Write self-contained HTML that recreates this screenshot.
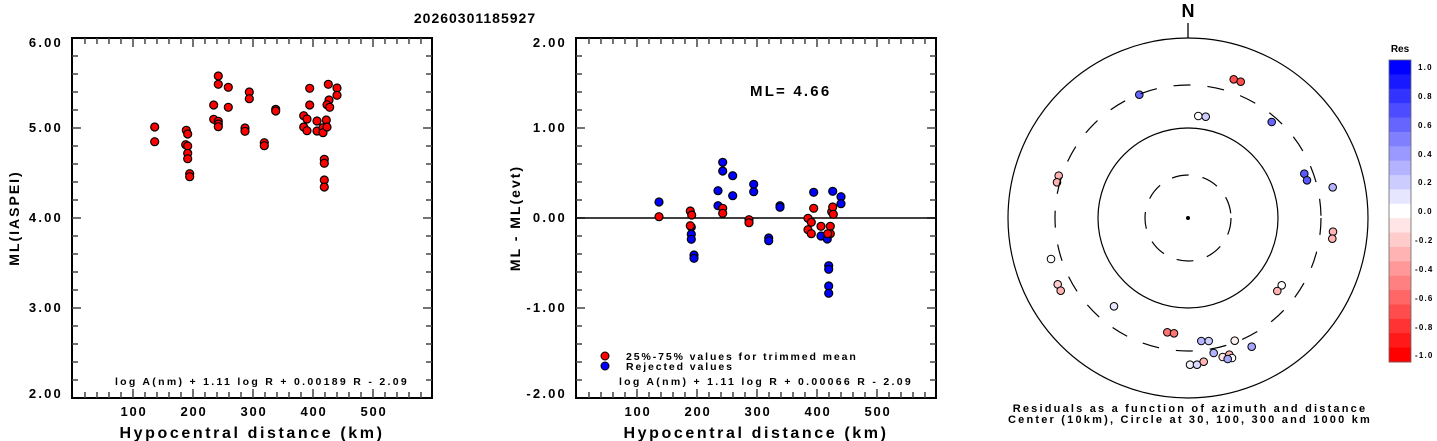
<!DOCTYPE html>
<html><head><meta charset="utf-8"><style>
body{margin:0;background:#fff}
svg{display:block}
text{font-family:"Liberation Sans",sans-serif;font-weight:bold;fill:#000}
</style></head><body>
<svg id="s" width="1437" height="441" viewBox="0 0 1437 441" xmlns="http://www.w3.org/2000/svg">
<text x="475" y="23" font-size="14" text-anchor="middle" letter-spacing="1">20260301185927</text>
<g id="left"></g><g id="mid"></g><g id="polar"></g>
<g font-size="13" letter-spacing="2.2" text-anchor="end">
<text x="63" y="47">6.00</text><text x="63" y="132">5.00</text><text x="63" y="222">4.00</text><text x="63" y="312">3.00</text><text x="63" y="398">2.00</text>
<text x="567" y="47">2.00</text><text x="567" y="132">1.00</text><text x="567" y="222">0.00</text><text x="567" y="312">-1.00</text><text x="567" y="398">-2.00</text>
</g>
<g font-size="13" letter-spacing="1.8" text-anchor="middle">
<text x="134" y="416">100</text><text x="194" y="416">200</text><text x="254" y="416">300</text><text x="314" y="416">400</text><text x="374" y="416">500</text>
<text x="638" y="416">100</text><text x="698" y="416">200</text><text x="758" y="416">300</text><text x="818" y="416">400</text><text x="878" y="416">500</text>
</g>
<text x="252" y="438" font-size="16" letter-spacing="2.6" text-anchor="middle">Hypocentral distance (km)</text>
<text x="756" y="438" font-size="16" letter-spacing="2.6" text-anchor="middle">Hypocentral distance (km)</text>
<text transform="translate(19,218) rotate(-90)" font-size="14" letter-spacing="2" text-anchor="middle">ML(IASPEI)</text>
<text transform="translate(520,218) rotate(-90)" font-size="14" letter-spacing="2" text-anchor="middle">ML - ML(evt)</text>
<text x="262" y="385" font-size="10.5" letter-spacing="2.3" text-anchor="middle">log A(nm) + 1.11 log R + 0.00189 R - 2.09</text>
<text x="766" y="385" font-size="10.5" letter-spacing="2.3" text-anchor="middle">log A(nm) + 1.11 log R + 0.00066 R - 2.09</text>
<text x="750" y="96" font-size="15" letter-spacing="2.2">ML= 4.66</text>
<circle cx="605" cy="356" r="4" fill="#f00" stroke="#000"/>
<circle cx="605" cy="366" r="4" fill="#00f" stroke="#000"/>
<text x="626" y="360" font-size="10.5" letter-spacing="1.9">25%-75% values for trimmed mean</text>
<text x="626" y="370" font-size="10.5" letter-spacing="1.9">Rejected values</text>
<text x="1188" y="17" font-size="18" text-anchor="middle">N</text>
<line x1="1188" y1="23" x2="1188" y2="38" stroke="#000" stroke-width="1.3"/>
<circle cx="1188" cy="218" r="180" fill="none" stroke="#000" stroke-width="1.2"/>
<circle cx="1188" cy="218" r="90" fill="none" stroke="#000" stroke-width="1.2"/>
<circle cx="1188" cy="218" r="133" fill="none" stroke="#000" stroke-width="1.2" stroke-dasharray="17,17"/>
<circle cx="1188" cy="218" r="43" fill="none" stroke="#000" stroke-width="1.2" stroke-dasharray="17,14"/>
<circle cx="1188" cy="218" r="2" fill="#000"/>
<text x="1190" y="412" font-size="11" letter-spacing="2.2" text-anchor="middle">Residuals as a function of azimuth and distance</text>
<text x="1190" y="423" font-size="11" letter-spacing="2.2" text-anchor="middle">Center (10km), Circle at 30, 100, 300 and 1000 km</text>
<text x="1400" y="52" font-size="10" text-anchor="middle">Res</text>
<g id="cb"></g>
<g font-size="8" letter-spacing="1.2">
<text x="1418" y="70">1.0</text><text x="1418" y="99">0.8</text><text x="1418" y="128">0.6</text><text x="1418" y="157">0.4</text><text x="1418" y="185">0.2</text><text x="1418" y="214">0.0</text><text x="1415" y="243">-0.2</text><text x="1415" y="272">-0.4</text><text x="1415" y="301">-0.6</text><text x="1415" y="330">-0.8</text><text x="1415" y="358">-1.0</text>
</g>
</svg>
<script>
var NS="http://www.w3.org/2000/svg";
function el(p,t,a){var e=document.createElementNS(NS,t);for(var k in a)e.setAttribute(k,a[k]);document.getElementById(p).appendChild(e);return e;}
function frame(g,L){
 var T=38,B=398,R=L+360;
 el(g,"rect",{x:L,y:T,width:360,height:360,fill:"none",stroke:"#000","stroke-width":2});
 for(var k=20;k<600;k+=20){var x=L+1+0.6*k,len=(k%100==0)?9:6;
  el(g,"line",{x1:x,y1:B,x2:x,y2:B-len,stroke:"#444","stroke-width":1.5});
  el(g,"line",{x1:x,y1:T,x2:x,y2:T+len,stroke:"#444","stroke-width":1.5});}
 for(var i=1;i<20;i++){var y=T+18*i,len=(i%5==0)?9:6;
  el(g,"line",{x1:L,y1:y,x2:L+len,y2:y,stroke:"#444","stroke-width":1.5});
  el(g,"line",{x1:R,y1:y,x2:R-len,y2:y,stroke:"#444","stroke-width":1.5});}
}
frame("left",72);frame("mid",576);
el("mid","line",{x1:576,y1:218,x2:936,y2:218,stroke:"#000","stroke-width":1.5});
var lp=[[154.7,127],[154.7,141.7],[186.3,130.3],[187.7,134],[185.7,144.7],[187.7,146],[187.7,153.3],[187.7,158.7],[189.7,173.7],[189.7,176.7],[213.7,105],[213.7,119.3],[218.3,76],[218.3,84.3],[218.3,121.3],[218.3,124],[218.3,126.7],[228.3,87.3],[228.3,107.3],[245,128],[245,131.3],[249.3,92],[249.3,98.7],[264.3,142.7],[264.3,145.7],[275.7,109.3],[275.7,111],[309.7,88.3],[309.7,105],[303.7,115.7],[307,119],[303.7,127],[307,130.7],[317,121],[317,131],[323,127.7],[323,132.7],[326.3,120],[327,127],[328.3,84.3],[329,100],[327,104.7],[329.7,107.3],[337,88],[337,95.3],[324.3,159.3],[324.3,163.3],[324.3,180],[324.3,187]];
lp.forEach(function(p){el("left","circle",{cx:p[0],cy:p[1],r:4,fill:"#f00",stroke:"#000","stroke-width":1.2});});
var bp=[[659,202],[691.3,227],[691.3,234.3],[691.3,239.3],[694,255],[694,258.3],[722.7,162.3],[722.7,171],[718,190.7],[718,205.7],[732.7,175.7],[732.7,195.7],[753.7,184.3],[753.7,191.7],[768.7,238],[768.7,240.7],[780,205.7],[780,207.3],[813.7,192.3],[821,236],[827.3,239],[832.7,191.3],[841,196.7],[841,203.7],[828.7,265.7],[828.7,269.3],[828.7,286],[828.7,293.3]];
var rp=[[659,216.7],[690.3,211],[691.7,215],[690.3,225.7],[722.7,208.3],[722.7,213.3],[749,219.7],[749,222.7],[808,218.3],[811.3,222.3],[808,229.7],[811.3,233.7],[813.7,208.3],[821,226.3],[830.3,226.3],[830.3,233.7],[827.7,233.7],[831.7,211.7],[832.7,207],[833.3,214.3]];
bp.forEach(function(p){el("mid","circle",{cx:p[0],cy:p[1],r:4,fill:"#00f",stroke:"#000","stroke-width":1.2});});
rp.forEach(function(p){el("mid","circle",{cx:p[0],cy:p[1],r:4,fill:"#f00",stroke:"#000","stroke-width":1.2});});
function col(v){var c=Math.round(255*(1-Math.abs(v)));return v>=0?"rgb("+c+","+c+",255)":"rgb(255,"+c+","+c+")";}
var pp=[[1233.7,79.3,-.7],[1240.7,81.7,-.7],[1139.3,94.7,.6],[1198.3,116,0],[1205.7,116.7,.2],[1271.7,122,.6],[1304.3,173.7,.65],[1307,180.3,.65],[1332.7,187.3,.3],[1058.7,175.7,-.3],[1057,182.3,-.3],[1333,231.7,-.3],[1332.3,238.7,-.3],[1051,259,0],[1057.7,284.3,-.2],[1060.7,290.7,-.3],[1281.7,285.3,0],[1277.3,291,-.3],[1114,306.3,.1],[1167.3,332.3,-.55],[1174,333.3,-.55],[1201.3,341,.3],[1208.7,341,.2],[1234.7,340.7,-.05],[1251.7,346.7,.35],[1213.7,353,.3],[1222.7,357,-.1],[1229.3,354.7,-.3],[1232,358,0],[1227.7,359,.35],[1190,364.7,.05],[1197,364.7,.15],[1203.7,361.7,-.3]];
pp.forEach(function(p){el("polar","circle",{cx:p[0],cy:p[1],r:3.8,fill:col(p[2]),stroke:"#000","stroke-width":1});});
for(var i=0;i<21;i++){var v=1-0.1*i;el("cb","rect",{x:1389,y:60+14.38*i,width:22,height:14.9,fill:col(v)});}
el("cb","rect",{x:1389,y:60,width:22,height:302,fill:"none",stroke:"#666","stroke-width":0.8});
</script>
</body></html>
